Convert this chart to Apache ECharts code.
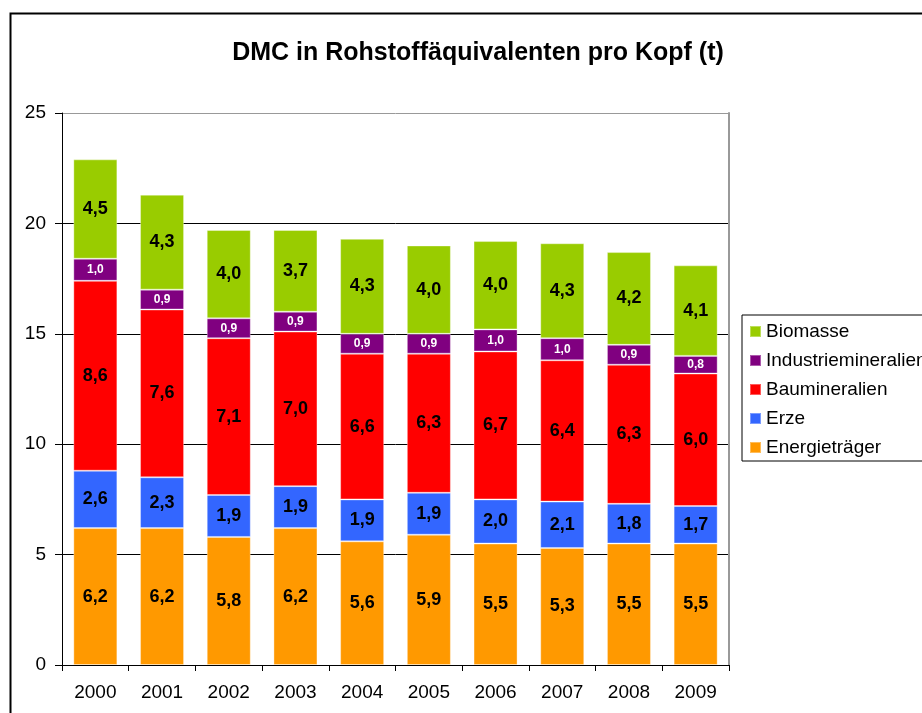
<!DOCTYPE html>
<html>
<head>
<meta charset="utf-8">
<script src="https://cdn.jsdelivr.net/npm/echarts@6/dist/echarts.min.js"></script>
<style>
  html, body { margin: 0; padding: 0; background: #fff; }
  #main { width: 922px; height: 713px; }
</style>
</head>
<body>
<div id="main"></div>
<script>
const years = ["2000", "2001", "2002", "2003", "2004", "2005", "2006", "2007", "2008", "2009"];
const energietraeger = [6.2, 6.2, 5.8, 6.2, 5.6, 5.9, 5.5, 5.3, 5.5, 5.5];
const erze = [2.6, 2.3, 1.9, 1.9, 1.9, 1.9, 2.0, 2.1, 1.8, 1.7];
const baumineralien = [8.6, 7.6, 7.1, 7.0, 6.6, 6.3, 6.7, 6.4, 6.3, 6.0];
const industriemineralien = [1.0, 0.9, 0.9, 0.9, 0.9, 0.9, 1.0, 1.0, 0.9, 0.8];
const biomasse = [4.5, 4.3, 4.0, 3.7, 4.3, 4.0, 4.0, 4.3, 4.2, 4.1];
const yTicks = [0, 5, 10, 15, 20, 25];

const font = "Liberation Sans, Arial, sans-serif";
// Komma als Dezimaltrenner
const fmt = (p) => p.value.toFixed(1).replace(".", ",");

function makeSeries(name, data, color, small) {
  return {
    name: name,
    type: "bar",
    stack: "total",
    data: data,
    barCategoryGap: "34%",
    itemStyle: {
      color: color,
      borderColor: "rgba(255,255,255,0.35)",
      borderWidth: 1,
    },
    label: {
      show: true,
      position: "inside",
      formatter: fmt,
      fontFamily: font,
      fontWeight: "bold",
      fontSize: small ? 12 : 18,
      color: small ? "#ffffff" : "#000000",
    },
  };
}

const myChart = echarts.init(document.getElementById("main"));
const option = {
  backgroundColor: "#ffffff",
  animation: false,
  textStyle: { fontFamily: font },
  title: {
    text: "DMC in Rohstoffäquivalenten pro Kopf (t)",
    left: 473,
    top: 36,
    textAlign: "center",
    textStyle: { fontFamily: font, fontWeight: "bold", fontSize: 25, color: "#000" },
  },
  graphic: [
    {
      type: "rect",
      left: 8,
      top: 11,
      shape: { width: 1000, height: 800 },
      style: { fill: "none", stroke: "#000", lineWidth: 2 },
      z: -10,
    },
  ],
  grid: { left: 62, right: 193, top: 113, bottom: 48, containLabel: false },
  legend: {
    orient: "vertical",
    left: 742,
    top: 315,
    width: 300,
    data: ["Biomasse", "Industriemineralien", "Baumineralien", "Erze", "Energieträger"],
    icon: "rect",
    itemWidth: 11,
    itemHeight: 11,
    itemGap: 10,
    padding: [7, 40, 4, 7],
    borderColor: "#000",
    borderWidth: 1,
    borderRadius: 0,
    textStyle: { fontFamily: font, fontSize: 19, color: "#000" },
  },
  xAxis: {
    type: "category",
    data: years,
    axisLine: { lineStyle: { color: "#000", width: 1 } },
    axisTick: { show: true, alignWithLabel: false, length: 6, lineStyle: { color: "#000" } },
    axisLabel: { fontFamily: font, fontSize: 19, color: "#000", margin: 18 },
  },
  yAxis: [
    {
      type: "value",
      min: yTicks[0],
      max: yTicks[yTicks.length - 1],
      interval: 5,
      axisLine: { show: true, lineStyle: { color: "#000", width: 1 } },
      axisTick: { show: true, length: 7, lineStyle: { color: "#000" } },
      axisLabel: { fontFamily: font, fontSize: 19, color: "#000", margin: 16 },
      splitLine: {
        show: true,
        lineStyle: { color: ["#000", "#000", "#000", "#000", "#000", "#999"], width: 1 },
      },
    },
    {
      type: "value",
      position: "right",
      min: 0,
      max: 25,
      interval: 5,
      axisLine: { show: true, lineStyle: { color: "#999", width: 2 } },
      axisTick: { show: false },
      axisLabel: { show: false },
      splitLine: { show: false },
    },
  ],
  series: [
    makeSeries("Energieträger", energietraeger, "#ff9900", false),
    makeSeries("Erze", erze, "#3366ff", false),
    makeSeries("Baumineralien", baumineralien, "#ff0000", false),
    makeSeries("Industriemineralien", industriemineralien, "#800080", true),
    makeSeries("Biomasse", biomasse, "#99cc00", false),
  ],
};
myChart.setOption(option);
</script>
</body>
</html>
